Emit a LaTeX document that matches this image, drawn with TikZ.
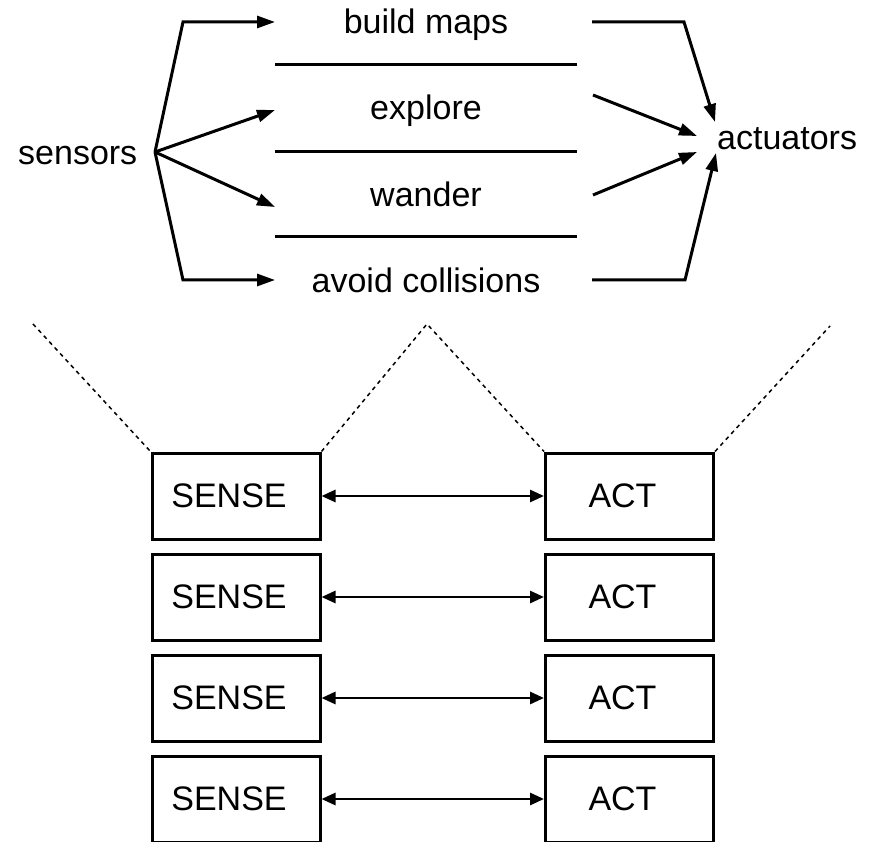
\documentclass[tikz,border=0pt]{standalone}
\usepackage{fontspec}
\setmainfont{Liberation Sans}
\usetikzlibrary{arrows.meta}

\begin{document}
\begin{tikzpicture}[x=1pt,y=-1pt,
  lbl/.style={font=\fontsize{34}{40}\selectfont, inner sep=0pt, anchor=base},
  flow/.style={line width=3pt, line join=miter, -{Triangle[length=18pt,width=12pt]}},
  sep/.style={line width=3pt},
  cone/.style={line width=1.5pt, dash pattern=on 4pt off 4pt},
  modbox/.style={draw, line width=3pt, minimum width=168pt, minimum height=86pt,
    font=\fontsize{34}{40}\selectfont, inner sep=0pt},
  link/.style={line width=2.8pt, {Triangle[length=14pt,width=12pt]}-{Triangle[length=14pt,width=12pt]}}
]
\useasboundingbox (0,0) rectangle (875,842);
\clip (0,0) rectangle (875,842);

% --- horizontal decomposition: sensors -> layers -> actuators
\node[lbl, anchor=base west] (sensors) at (18,165) {sensors};
\node[lbl, anchor=base west] (actuators) at (717,150) {actuators};

\node[lbl] (build)   at (426,34)  {build maps};
\node[lbl] (explore) at (426,120) {explore};
\node[lbl] (wander)  at (426,207) {wander};
\node[lbl] (avoid)   at (426,293) {avoid collisions};

\coordinate (fan) at (155,152);
\coordinate (in1) at (275,22);
\coordinate (in2) at (275,110);
\coordinate (in3) at (275,207);
\coordinate (in4) at (275,280);
\coordinate (out1) at (592,22);
\coordinate (out2) at (593,95);
\coordinate (out3) at (593,195);
\coordinate (out4) at (592,280);
\coordinate (act1) at (715,122);
\coordinate (act2) at (697,136);
\coordinate (act3) at (697,152);
\coordinate (act4) at (716,153);

\draw[flow] (fan) -- (183,22) -- (in1);
\draw[flow] (fan) -- (in2);
\draw[flow] (fan) -- (in3);
\draw[flow] (fan) -- (183,280) -- (in4);

\draw[flow] (out1) -- (684,22) -- (act1);
\draw[flow] (out2) -- (act2);
\draw[flow] (out3) -- (act3);
\draw[flow] (out4) -- (685,280) -- (act4);

% layer separators
\draw[sep] (275,65)  -- (577,65);
\draw[sep] (275,152) -- (577,152);
\draw[sep] (275,237) -- (577,237);

% --- vertical decomposition: sense/act modules
\foreach \i/\y in {1/496,2/597,3/698,4/799}{
  \node[modbox] (sense\i) at (236,\y) {\kern-7pt SENSE\kern7pt};
  \node[modbox] (act\i)   at (629.5,\y) {\kern-7pt ACT\kern7pt};
  \draw[link] (sense\i.east) -- (act\i.west);
}

% projection cones
\coordinate (apexL) at (33,324);
\coordinate (apexM) at (427,324);
\coordinate (apexR) at (830,326);
\draw[cone] (apexL) -- (sense1.north west);
\draw[cone] (sense1.north east) -- (apexM) -- (act1.north west);
\draw[cone] (act1.north east) -- (apexR);
\end{tikzpicture}
\end{document}
